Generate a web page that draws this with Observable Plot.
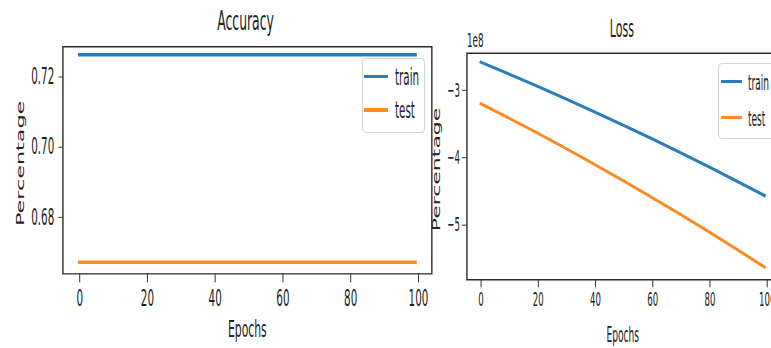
<!DOCTYPE html>
<html><head><meta charset="utf-8">
<script src="https://cdn.jsdelivr.net/npm/d3@7"></script>
<script src="https://cdn.jsdelivr.net/npm/@observablehq/plot@0.6"></script>
<style>
body{margin:0;background:#fff;}
#chart{position:relative;width:771px;height:348px;overflow:hidden;background:#fff;font-family:"DejaVu Sans",sans-serif;color:#222;}
#chart svg{position:absolute;top:0;}
#chart svg *{vector-effect:non-scaling-stroke;}
.lg-box{position:absolute;box-sizing:border-box;border:1px solid #d4d4d4;border-radius:4px;background:rgba(255,255,255,0.8);}
.lg-line{position:absolute;}
.lg-text{position:absolute;white-space:nowrap;line-height:1;transform-origin:0 0;font-family:"DejaVu Sans",sans-serif;color:#222;}
</style></head><body><div id="chart"></div>
<script>
// ---- data ----
const epochs = [0, 10, 20, 30, 40, 50, 60, 70, 80, 90, 99];
const seriesNames = ["train", "test"];
const seriesColors = ["#2a7dbd", "#ff8a22"];
const accTrain = [0.7263, 0.7263, 0.7263, 0.7263, 0.7263, 0.7263, 0.7263, 0.7263, 0.7263, 0.7263, 0.7263];
const accTest  = [0.6672, 0.6672, 0.6672, 0.6672, 0.6672, 0.6672, 0.6672, 0.6672, 0.6672, 0.6672, 0.6672];
const lossTrain = [-2.585, -2.763, -2.946, -3.134, -3.326, -3.524, -3.725, -3.933, -4.144, -4.361, -4.56];
const lossTest  = [-3.20, -3.418, -3.641, -3.871, -4.107, -4.349, -4.596, -4.850, -5.110, -5.375, -5.62];
const epochTicks = [0, 20, 40, 60, 80, 100];
const accTicks = [0.68, 0.70, 0.72];
const lossTicks = [-5, -4, -3];
const titles = ["Accuracy", "Loss"];
const xLabel = "Epochs";
const yLabel = "Percentage";
const lossOffsetLabel = "1e8";

function rows(a, b) {
  const out = [];
  epochs.forEach((e, i) => { out.push({epoch: e, value: a[i], series: seriesNames[0]}); });
  epochs.forEach((e, i) => { out.push({epoch: e, value: b[i], series: seriesNames[1]}); });
  return out;
}

const chart = document.getElementById("chart");

function panel(cfg) {
  const vw = cfg.screenW / cfg.s;
  const marks = [
    Plot.line(cfg.data, {x: "epoch", y: "value", stroke: "series", strokeWidth: cfg.lineW, strokeLinecap: "square"}),
    Plot.frame({stroke: "#2b2b2b", strokeWidth: 1.4}),
    Plot.axisX(epochTicks, {tickSize: cfg.xTickSize, tickPadding: cfg.xTickPad, tickFormat: d3.format("d"), fontSize: cfg.tickFont, label: null, stroke: "#333"}),
    Plot.axisY(cfg.yTicks, {tickSize: cfg.yTickSize, tickPadding: cfg.yTickPad, tickFormat: cfg.yFormat, fontSize: cfg.tickFont, label: null, stroke: "#333"}),
    Plot.text([cfg.title], {text: d => d, frameAnchor: "top", textAnchor: "middle", lineAnchor: "bottom", dx: cfg.titleDx, dy: cfg.titleDy, fontSize: cfg.titleFont}),
    Plot.text([xLabel], {text: d => d, frameAnchor: "bottom", textAnchor: "middle", lineAnchor: "bottom", dy: cfg.xLabelDy, fontSize: cfg.xLabelFont}),
    Plot.text([yLabel], {text: d => d, frameAnchor: "left", textAnchor: "middle", lineAnchor: "middle", rotate: -90, dx: cfg.yLabelDx, dy: 3, fontSize: cfg.yLabelFont})
  ];
  if (cfg.offset) marks.push(Plot.text([cfg.offset], {text: d => d, frameAnchor: "top-left", textAnchor: "start", lineAnchor: "bottom", dy: -6.7, fontSize: 20}));
  const svg = Plot.plot({
    width: vw, height: 348,
    marginLeft: cfg.ml, marginRight: cfg.mr, marginTop: cfg.mt, marginBottom: cfg.mb,
    x: {domain: [-4.95, 103.95]},
    y: {domain: cfg.yDomain},
    color: {domain: seriesNames, range: seriesColors},
    style: {fontFamily: "DejaVu Sans", fontSize: cfg.tickFont + "px", background: "transparent", color: "#222", overflow: "visible"},
    marks
  });
  svg.setAttribute("preserveAspectRatio", "none");
  svg.style.width = cfg.screenW + "px";
  svg.style.height = "348px";
  svg.style.maxWidth = "none";
  svg.style.left = cfg.screenLeft + "px";
  chart.appendChild(svg);
}

function legend(cfg) {
  const box = document.createElement("div");
  box.className = "lg-box";
  Object.assign(box.style, {left: cfg.left + "px", top: cfg.top + "px", width: cfg.width + "px", height: cfg.height + "px"});
  chart.appendChild(box);
  seriesNames.forEach((name, i) => {
    const ln = document.createElement("div");
    ln.className = "lg-line";
    Object.assign(ln.style, {left: cfg.hx + "px", top: (cfg.rowsY[i] - cfg.lineW / 2) + "px", width: cfg.hw + "px", height: cfg.lineW + "px", background: seriesColors[i]});
    chart.appendChild(ln);
    const t = document.createElement("div");
    t.className = "lg-text";
    t.textContent = name;
    Object.assign(t.style, {left: cfg.tx + "px", top: (cfg.rowsY[i] + cfg.baseOff - 0.846 * cfg.font) + "px", fontSize: cfg.font + "px", transform: `scaleX(${cfg.s})`});
    chart.appendChild(t);
  });
}

// Left panel: Accuracy
panel({
  data: rows(accTrain, accTest), s: 0.46, screenW: 440, screenLeft: 0,
  ml: 62.7 / 0.46, mr: (440 - 431.6) / 0.46, mt: 46.3, mb: 348 - 273.4,
  yDomain: [0.6639, 0.7286], yTicks: accTicks, yFormat: d3.format(".2f"),
  tickFont: 22.5, xTickSize: 9, xTickPad: 7.5, yTickSize: 9.5, yTickPad: 9.4,
  lineW: 3.5, title: titles[0], titleFont: 27, titleDx: -4, titleDy: -16.8,
  xLabelDy: 63.4, xLabelFont: 23.5, yLabelDx: -92.8, yLabelFont: 22.3
});
// Right panel: Loss
panel({
  data: rows(lossTrain, lossTest), s: 0.44, screenW: 365, screenLeft: 425,
  ml: (466.7 - 425) / 0.44, mr: (790 - 778.3) / 0.44, mt: 52.7, mb: 348 - 279.3,
  yDomain: [-5.81, -2.45], yTicks: lossTicks, yFormat: d3.format("d"),
  tickFont: 19.5, xTickSize: 8, xTickPad: 4.4, yTickSize: 11, yTickPad: 5,
  lineW: 3, title: titles[1], titleFont: 25, titleDx: -2, titleDy: -16,
  xLabelDy: 62.4, xLabelFont: 20.7, yLabelDx: -67.5, yLabelFont: 22, offset: lossOffsetLabel
});

legend({left: 361.5, top: 58.3, width: 63.5, height: 74.5, hx: 363.5, hw: 24, tx: 395, rowsY: [76.3, 110], baseOff: 8.3, font: 22.5, s: 0.46, lineW: 3.5});
legend({left: 718.3, top: 63.3, width: 70, height: 76, hx: 720.7, hw: 21, tx: 748.3, rowsY: [81.7, 117], baseOff: 9, font: 20.5, s: 0.44, lineW: 3});
</script></body></html>
